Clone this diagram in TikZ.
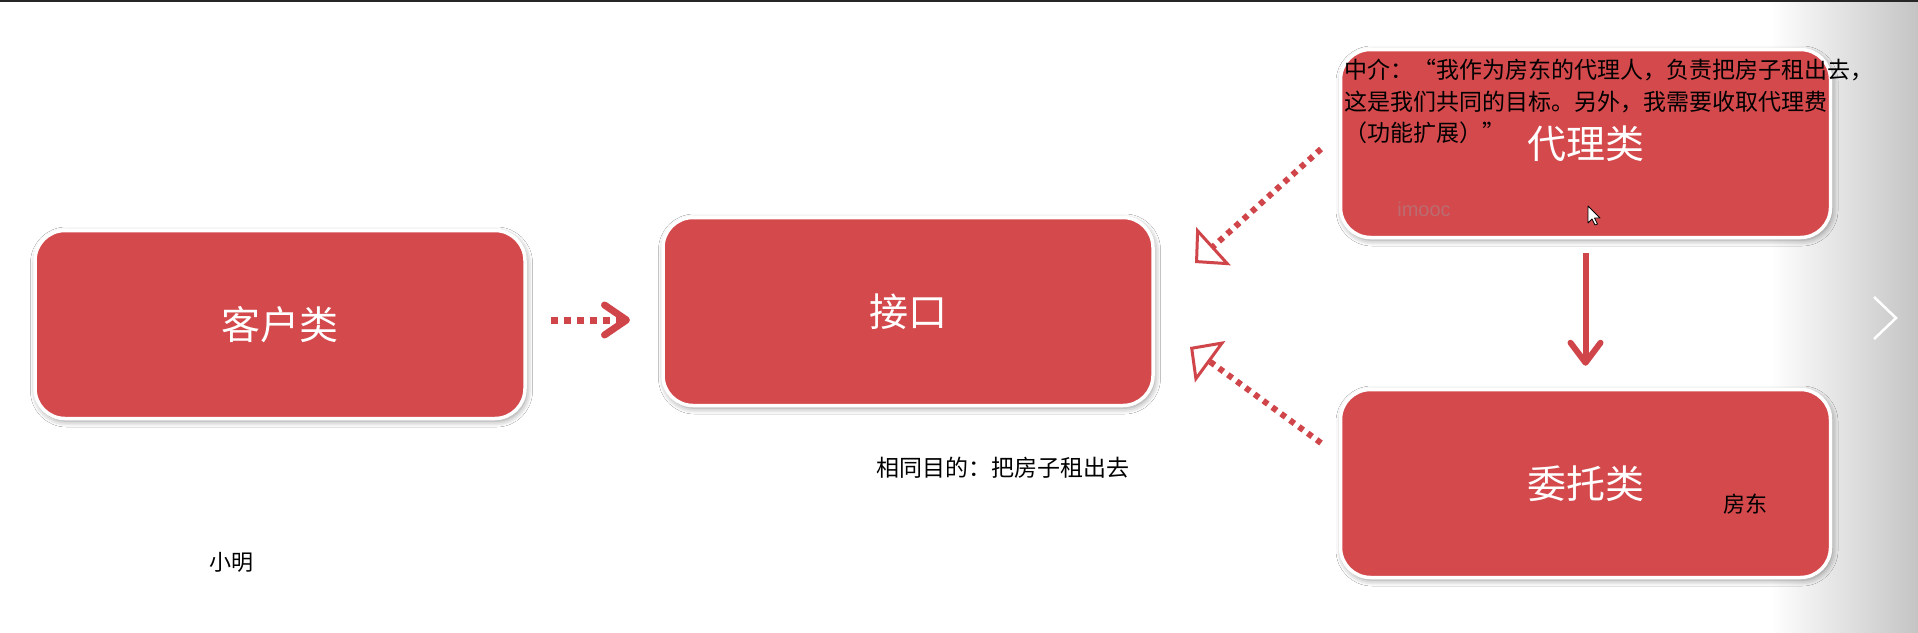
\documentclass[tikz,border=0pt]{standalone}
\usepackage{fontspec}
\setmainfont{Noto Sans CJK SC}
\newfontfamily\latinsans{Liberation Sans}
\usetikzlibrary{arrows.meta,shadows.blur}
\definecolor{boxred}{RGB}{212,73,76}
\definecolor{arrred}{RGB}{208,69,74}
\definecolor{wmark}{RGB}{186,108,112}
\definecolor{edgegray}{RGB}{196,196,196}
\begin{document}
\begin{tikzpicture}[x=1pt,y=-1pt,
  clsbox/.style={draw=white, line width=3.5pt, fill=boxred, rounded corners=30pt,
    minimum width=490pt, minimum height=188pt, text=white,
    font=\fontsize{39pt}{46pt}\selectfont,
    blur shadow={shadow xshift=1.5pt, shadow yshift=-2.5pt, shadow blur radius=6pt, shadow opacity=45}},
  note/.style={inner sep=0pt, text=black, font=\fontsize{23pt}{28pt}\selectfont},
  dotarrow/.style={draw=arrred, line width=7pt, dash pattern=on 7pt off 6pt},
  dotimpl/.style={draw=arrred, line width=6pt, dash pattern=on 5.5pt off 5.5pt,
    -{Triangle[length=25pt,width=51pt,fill=white,line width=3pt]}},
]
\useasboundingbox (0,0) rectangle (1918,632);
\fill[white] (0,0) rectangle (1918,632);
\shade[left color=white, right color=edgegray] (1770,0) rectangle (1918,632);
\draw[line width=2pt, black!85] (0,1) -- (1918,1);
\draw[white, line width=2.5pt] (1874,297) -- (1896,318) -- (1874,339);

\node[clsbox] (client) at (280,324.5) {客户类};
\node[clsbox] (iface) at (908,311.5) {接口};
\node[clsbox] (proxy) at (1585.5,143.5) {代理类};
\node[clsbox] (real) at (1585.5,483.5) {委托类};

\node[text=wmark, font=\latinsans\fontsize{20pt}{24pt}\selectfont] (wm) at (1424,209) {imooc};
\draw[black, fill=white, line width=0.8pt, line join=round] (1588,206) -- ++(0,17) -- ++(4,-4) -- ++(3,6) -- ++(2.5,-1) -- ++(-3,-6) -- ++(5.5,0) -- cycle;

\coordinate (c1s) at (551,320);
\coordinate (c1e) at (630,320);
\draw[dotarrow, -{Straight Barb[length=22pt,width=30pt,round,line width=7pt]}] (c1s) -- (c1e);

\coordinate (u1) at (1321,149);
\coordinate (u2) at (1195,263);
\draw[dotimpl] (u1) -- (u2);
\coordinate (l1) at (1321,443);
\coordinate (l2) at (1190,347);
\draw[dotimpl] (l1) -- (l2);

\draw[arrred, line width=6pt, shorten <=14pt, shorten >=22pt,
  -{Straight Barb[length=20pt,width=30pt,round]}] (proxy.south) -- (real.north);

\node[note, anchor=west] (n1) at (1344,70) {中介：“我作为房东的代理人，负责把房子租出去，};
\node[note, anchor=west] (n2) at (1344,102) {这是我们共同的目标。另外，我需要收取代理费};
\node[note, anchor=west] (n3) at (1344,133) {（功能扩展）”};

\node[note] (goal) at (1003,468) {相同目的：把房子租出去};
\node[note, font=\fontsize{22pt}{26pt}\selectfont] (xm) at (231,562) {小明};
\node[note, font=\fontsize{22pt}{26pt}\selectfont] (fd) at (1745,504) {房东};
\end{tikzpicture}
\end{document}
